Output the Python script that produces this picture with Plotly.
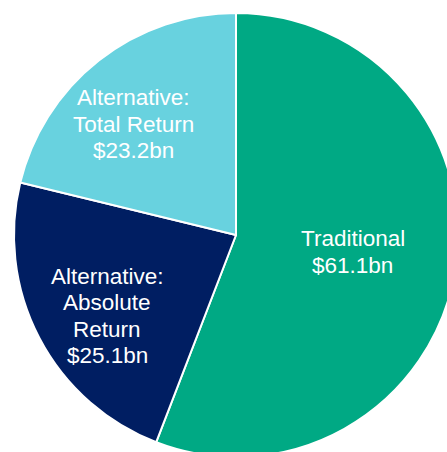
import math
import plotly.graph_objects as go

categories = ["Traditional", "Alternative: Absolute Return", "Alternative: Total Return"]
values = [61.1, 25.1, 23.2]
label_lines = [["Traditional", "$61.1bn"],
               ["Alternative:", "Absolute", "Return", "$25.1bn"],
               ["Alternative:", "Total Return", "$23.2bn"]]
colors = ["#00A984", "#001E62", "#68D2DF"]
label_radius = [0.53, 0.68, 0.68]
label_shift = [(1, 4.5), (5, -11), (-9, -8)]
LINE_GAP = 26.5

fig = go.Figure(go.Pie(
    labels=categories,
    values=values,
    sort=False,
    direction="clockwise",
    rotation=0,
    textinfo="none",
    hoverinfo="label+value",
    marker=dict(colors=colors, line=dict(color="white", width=2)),
    domain=dict(x=[0, 1], y=[0, 1]),
    showlegend=False,
))

total = sum(values)
annotations = []
cum = 0.0
for v, lines, f, (sx, sy) in zip(values, label_lines, label_radius, label_shift):
    mid = (cum + v / 2) / total * 2 * math.pi
    cum += v
    n = len(lines)
    for i, line in enumerate(lines):
        annotations.append(dict(
            x=0.5 + f * 0.5 * math.sin(mid),
            y=0.5 + f * 0.5 * math.cos(mid),
            xref="paper", yref="paper",
            xshift=sx, yshift=sy + ((n - 1) / 2 - i) * LINE_GAP,
            text=line, showarrow=False,
            font=dict(family="Liberation Sans, Arial, sans-serif", size=22.5, color="white"),
            align="center", xanchor="center", yanchor="middle",
        ))

fig.update_layout(
    width=458, height=457, autosize=False,
    margin=dict(l=14, t=13, r=0, b=0, pad=0),
    paper_bgcolor="white", plot_bgcolor="white",
    annotations=annotations,
)

fig.write_html("out.html", config={"displayModeBar": False},
               post_script="document.documentElement.style.overflow='hidden';document.body.style.margin='0';document.body.style.overflow='hidden';")
